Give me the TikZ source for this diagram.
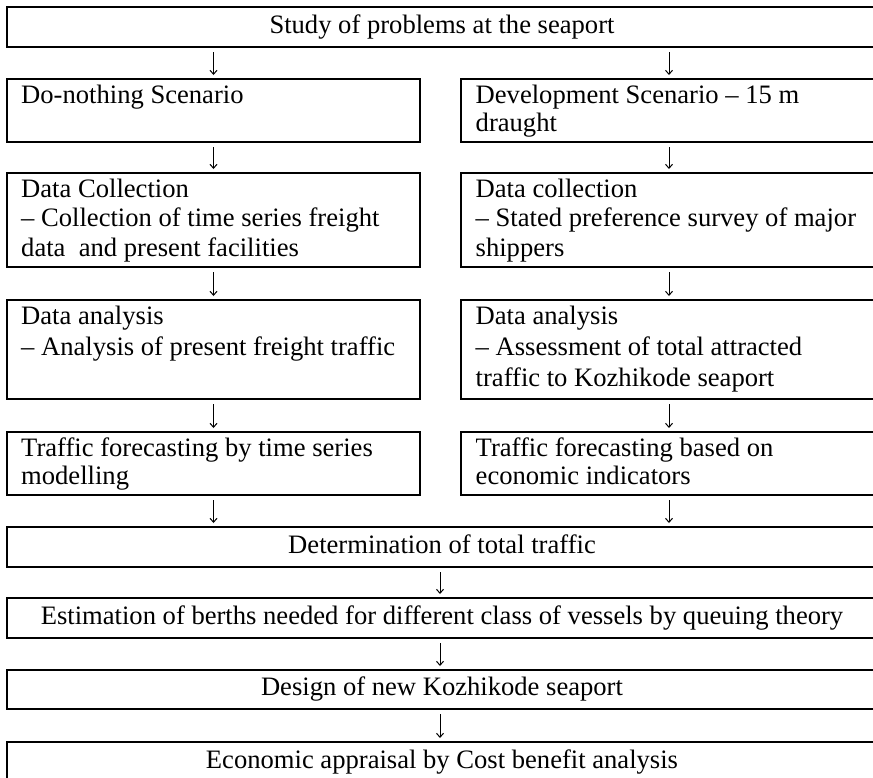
\documentclass[tikz,border=0pt]{standalone}
\usepackage{fontspec}
\setmainfont{Liberation Serif}
\usetikzlibrary{arrows.meta}
\begin{document}
\begin{tikzpicture}[x=1pt,y=-1pt,
  box/.style={draw, line width=2pt, inner sep=0pt, outer sep=0pt, anchor=north west},
  txt/.style={anchor=north west, inner sep=0pt, align=left, font=\fontsize{26.6pt}{#1}\selectfont},
  txt/.default={30pt},
  ctxt/.style={font=\fontsize{26.6pt}{30.6pt}\selectfont, text height=18.2pt, text depth=5.8pt},
  arr/.style={-{Straight Barb[length=4pt,width=7pt]}, line width=1pt, shorten <=5pt, shorten >=4pt}]
\useasboundingbox (0,0) rectangle (873,777);
\clip (0,0) rectangle (873,777);
% top
\node[box, minimum width=870pt, minimum height=40pt, ctxt] (top) at (7,7) {Study of problems at the seaport};
% row 1
\node[box, minimum width=413pt, minimum height=63pt] (l1) at (7,79) {};
\node[txt=28pt] (l1t) at (21,83) {\rule{0pt}{20pt}Do-nothing Scenario};
\node[box, minimum width=416pt, minimum height=63pt] (r1) at (461,79) {};
\node[txt=28pt] (r1t) at (475.5,83) {\rule{0pt}{20pt}Development Scenario – 15 m\\draught};
% row 2
\node[box, minimum width=413pt, minimum height=94pt] (l2) at (7,173) {};
\node[txt=29.5pt] (l2t) at (21,177) {\rule{0pt}{20pt}Data Collection\\– Collection of time series freight\\data\ \ and present facilities};
\node[box, minimum width=416pt, minimum height=94pt] (r2) at (461,173) {};
\node[txt=29.5pt] (r2t) at (475.5,177) {\rule{0pt}{20pt}Data collection\\– Stated preference survey of major\\shippers};
% row 3
\node[box, minimum width=413pt, minimum height=99pt] (l3) at (7,300) {};
\node[txt=31pt] (l3t) at (21,304) {\rule{0pt}{20pt}Data analysis\\– Analysis of present freight traffic};
\node[box, minimum width=416pt, minimum height=99pt] (r3) at (461,300) {};
\node[txt=31pt] (r3t) at (475.5,304) {\rule{0pt}{20pt}Data analysis\\– Assessment of total attracted\\traffic to Kozhikode seaport};
% row 4
\node[box, minimum width=413pt, minimum height=63pt] (l4) at (7,432) {};
\node[txt=28pt] (l4t) at (21,436) {\rule{0pt}{20pt}Traffic forecasting by time series\\modelling};
\node[box, minimum width=416pt, minimum height=63pt] (r4) at (461,432) {};
\node[txt=28pt] (r4t) at (475.5,436) {\rule{0pt}{20pt}Traffic forecasting based on\\economic indicators};
% full-width boxes
\node[box, minimum width=870pt, minimum height=40pt, ctxt] (det) at (7,527) {Determination of total traffic};
\node[box, minimum width=870pt, minimum height=40pt, ctxt] (est) at (7,598) {Estimation of berths needed for different class of vessels by queuing theory};
\node[box, minimum width=870pt, minimum height=39pt, ctxt] (des) at (7,670) {Design of new Kozhikode seaport};
\node[box, minimum width=870pt, minimum height=40pt, ctxt] (eco) at (7,742) {Economic appraisal by Cost benefit analysis};
% connectors
\draw[arr] (top.south -| l1) -- (l1.north);
\draw[arr] (top.south -| r1) -- (r1.north);
\draw[arr] (l1.south) -- (l2.north);
\draw[arr] (r1.south) -- (r2.north);
\draw[arr] (l2.south) -- (l3.north);
\draw[arr] (r2.south) -- (r3.north);
\draw[arr] (l3.south) -- (l4.north);
\draw[arr] (r3.south) -- (r4.north);
\draw[arr] (l4.south) -- (l4.south |- det.north);
\draw[arr] (r4.south) -- (r4.south |- det.north);
\draw[arr] ([xshift=-2pt]det.south) -- ([xshift=-2pt]est.north);
\draw[arr] ([xshift=-2pt]est.south) -- ([xshift=-2pt]des.north);
\draw[arr] ([xshift=-2pt]des.south) -- ([xshift=-2pt]eco.north);
\end{tikzpicture}
\end{document}
